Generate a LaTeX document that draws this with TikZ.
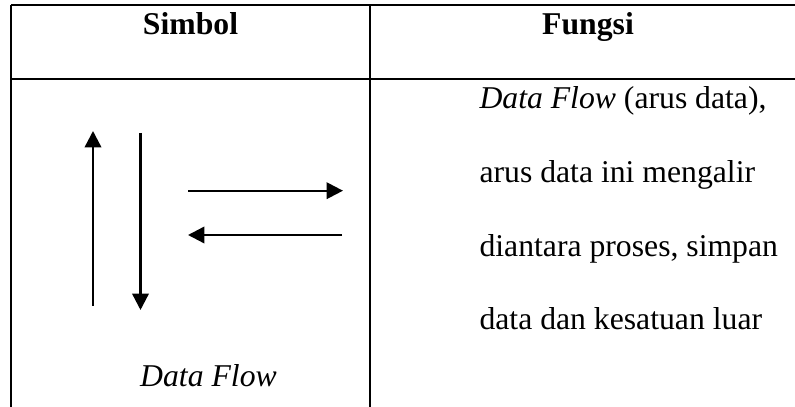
\documentclass[tikz,border=0pt,12pt]{standalone}
\usepackage{fontspec}
\setmainfont{Liberation Serif}
\usepackage{xcolor}
\usetikzlibrary{arrows.meta}

\begin{document}
\fontsize{12}{14.4}\selectfont
\begin{tikzpicture}[x=0.3785pt, y=-0.3785pt,
  gridline/.style={black, line width=0.85pt},
  flowarrow/.style={-{Triangle[length=6.2pt, width=6.2pt]}, black, line width=0.9pt},
  headtext/.style={font=\bfseries, anchor=base, inner sep=0pt},
  bodytext/.style={anchor=base west, inner sep=0pt}]

\useasboundingbox (0,0) rectangle (795,407);

% --- Table lines ---
\draw[gridline] (11,4.7) -- (795,4.7);
\draw[gridline] (11,79.3) -- (795,79.3);
\draw[gridline] (11,4.7) -- (11,407);
\draw[gridline] (370,4.7) -- (370,407);

% --- Header ---
\node[headtext] (simbol) at (190.5,35) {Simbol};
\node[headtext] (fungsi) at (588,35) {Fungsi};

% --- Symbol: data flow arrows ---
\coordinate (upstart) at (93,306);
\coordinate (upend) at (93,131);
\coordinate (downstart) at (140.5,133);
\coordinate (downend) at (140.5,310);
\coordinate (rightstart) at (188,190.7);
\coordinate (rightend) at (343,190.7);
\coordinate (leftstart) at (342,235);
\coordinate (leftend) at (188,235);

\draw[flowarrow] (upstart) -- (upend);
\draw[flowarrow] (downstart) -- (downend);
\draw[flowarrow] (rightstart) -- (rightend);
\draw[flowarrow] (leftstart) -- (leftend);

\node[anchor=base, inner sep=0pt] (symname) at (208.5,387) {\textit{Data Flow}};

% --- Function text ---
\node[bodytext] (line1) at (479,109) {\textit{Data Flow} (arus data),};
\node[bodytext] (line2) at (479,182.7) {arus data ini mengalir};
\node[bodytext] (line3) at (479,256.7) {diantara proses, simpan};
\node[bodytext] (line4) at (479,330) {data dan kesatuan luar};

\end{tikzpicture}
\end{document}
